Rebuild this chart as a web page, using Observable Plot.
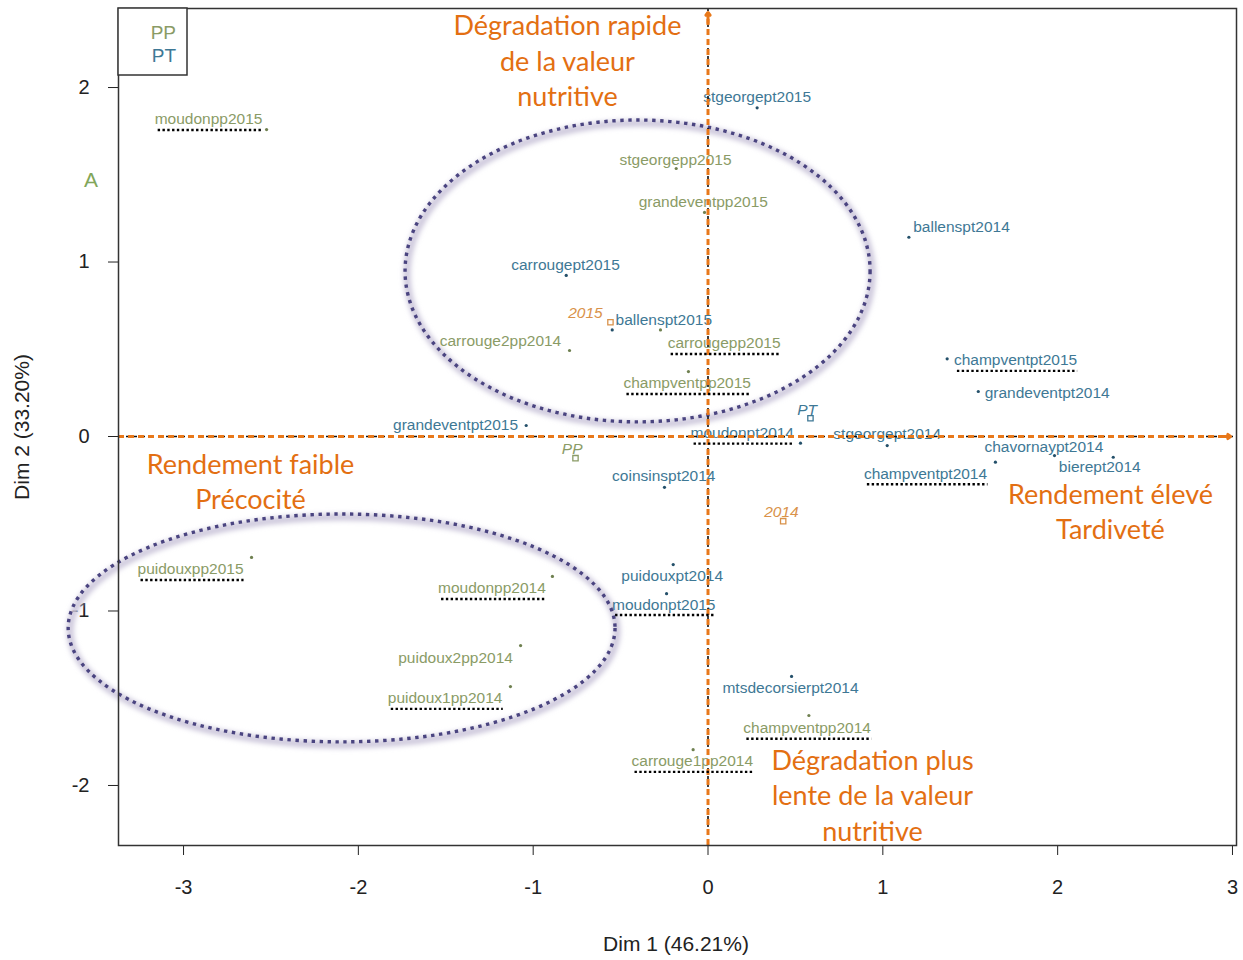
<!DOCTYPE html>
<html><head><meta charset="utf-8">
<script src="https://cdn.jsdelivr.net/npm/d3@7"></script>
<script src="https://cdn.jsdelivr.net/npm/@observablehq/plot@0.6"></script>
<style>body{margin:0;background:#fff} svg{display:block}</style>
</head><body><div id="chart"></div>
<script>
// ---- data ----
const ppNames = ["moudonpp2015","stgeorgepp2015","grandeventpp2015","carrougepp2015","champventpp2015","carrouge2pp2014","puidouxpp2015","moudonpp2014","puidoux2pp2014","puidoux1pp2014","champventpp2014","carrouge1pp2014"];
const ppDim1 = [-2.525,-0.182,-0.020,-0.272,-0.112,-0.792,-2.611,-0.890,-1.072,-1.130,0.577,-0.085];
const ppDim2 = [1.759,1.536,1.284,0.611,0.372,0.493,-0.693,-0.802,-1.198,-1.433,-1.599,-1.795];
const ppLabelDim1 = [-2.857,-0.186,-0.027,0.092,-0.119,-1.187,-2.960,-1.236,-1.444,-1.504,0.567,-0.090];
const ppLabelDim2 = [1.817,1.587,1.341,0.533,0.304,0.550,-0.762,-0.871,-1.267,-1.501,-1.672,-1.862];

const ptNames = ["stgeorgept2015","carrougept2015","ballenspt2014","ballenspt2015","grandeventpt2015","moudonpt2014","stgeorgept2014","coinsinspt2014","champventpt2015","grandeventpt2014","chavornaypt2014","bierept2014","champventpt2014","puidouxpt2014","moudonpt2015","mtsdecorsierpt2014"];
const ptDim1 = [0.281,-0.811,1.149,-0.548,-1.040,0.529,1.025,-0.249,1.368,1.546,1.982,2.318,1.644,-0.199,-0.237,0.478];
const ptDim2 = [1.884,0.923,1.142,0.611,0.063,-0.038,-0.052,-0.291,0.445,0.258,-0.109,-0.119,-0.147,-0.734,-0.901,-1.375];
const ptLabelDim1 = [0.281,-0.815,1.450,-0.253,-1.444,0.196,1.025,-0.253,1.759,1.940,1.921,2.241,1.244,-0.205,-0.253,0.472];
const ptLabelDim2 = [1.944,0.980,1.203,0.670,0.063,0.019,0.015,-0.229,0.436,0.250,-0.061,-0.176,-0.214,-0.802,-0.963,-1.442];

const suppNames = ["2015","2014","PP","PT"];
const suppGroup = ["year","year","PP","PT"];
const suppDim1 = [-0.558,0.430,-0.758,0.586];
const suppDim2 = [0.655,-0.485,-0.124,0.105];
const suppLabelDim1 = [-0.701,0.420,-0.777,0.567];
const suppLabelDim2 = [0.707,-0.434,-0.074,0.149];

const underlinedNames = ["moudonpp2015","carrougepp2015","champventpp2015","puidouxpp2015","moudonpp2014","puidoux1pp2014","champventpp2014","carrouge1pp2014","moudonpt2014","champventpt2015","champventpt2014","moudonpt2015"];

const ellipseCenterDim1 = [-0.400,-2.093];
const ellipseCenterDim2 = [0.946,-1.100];
const ellipseRadiusDim1 = [1.330,1.564];
const ellipseRadiusDim2 = [0.865,0.653];

const annotationTexts = ["Dégradation rapide\nde la valeur\nnutritive","Rendement faible\nPrécocité","Rendement élevé\nTardiveté","Dégradation plus\nlente de la valeur\nnutritive"];
const annotationDim1 = [-0.804,-2.617,2.302,0.941];
const annotationDim2 = [2.160,-0.250,-0.422,-2.047];

const arrowTipDim1 = 2.989;
const arrowTipDim2 = 2.43;

const xTicks = [-3,-2,-1,0,1,2,3];
const yTicks = [-2,-1,0,1,2];
const xDomain = [-3.372, 3.023];
const yDomain = [-2.344, 2.453];
const xLabel = "Dim 1 (46.21%)";
const yLabel = "Dim 2 (33.20%)";
const legendItems = ["PP","PT"];

// ---- styles ----
const colPP = "#8a9b66", colPT = "#3e7895";
const dotPP = "#6f8050", dotPT = "#24506a";
const orange = "#e36f12", orangeLine = "#e8781a", orangeSupp = "#d9924a";
const groupColor = {PP: colPP, PT: colPT, year: orangeSupp};
const sans = "'Liberation Sans', Arial, sans-serif";

// ---- tables ----
const rows = [
  ...ppNames.map((n,i)=>({name:n, group:"PP", d1:ppDim1[i], d2:ppDim2[i], l1:ppLabelDim1[i], l2:ppLabelDim2[i]})),
  ...ptNames.map((n,i)=>({name:n, group:"PT", d1:ptDim1[i], d2:ptDim2[i], l1:ptLabelDim1[i], l2:ptLabelDim2[i]}))
];
const supp = suppNames.map((n,i)=>({name:n, group:suppGroup[i], d1:suppDim1[i], d2:suppDim2[i], l1:suppLabelDim1[i], l2:suppLabelDim2[i]}));
const annotations = annotationTexts.map((t,i)=>({t, d1:annotationDim1[i], d2:annotationDim2[i]}));
const ellipses = ellipseCenterDim1.map((c,i)=>({cx:c, cy:ellipseCenterDim2[i], rx:ellipseRadiusDim1[i], ry:ellipseRadiusDim2[i]}));

const labelFont = 15.5;

function ellipseMark(index, scales) {
  const g = d3.create("svg:g");
  const defs = g.append("defs");
  defs.append("filter").attr("id","ellBlur").attr("x","-20%").attr("y","-20%").attr("width","140%").attr("height","140%")
    .append("feGaussianBlur").attr("stdDeviation", 2.5);
  for (const e of ellipses) {
    const cx = scales.x(e.cx), cy = scales.y(e.cy);
    const rx = Math.abs(scales.x(e.cx + e.rx) - cx), ry = Math.abs(scales.y(e.cy + e.ry) - cy);
    g.append("ellipse").attr("cx", cx + 2).attr("cy", cy + 3).attr("rx", rx).attr("ry", ry)
      .attr("fill","none").attr("stroke","#cdc8dc").attr("stroke-width",7).attr("filter","url(#ellBlur)");
    g.append("ellipse").attr("cx", cx).attr("cy", cy).attr("rx", rx).attr("ry", ry)
      .attr("fill","none").attr("stroke","#4a4480").attr("stroke-width",3.4).attr("stroke-dasharray","3.4,4.6");
  }
  return g.node();
}

const plot = Plot.plot({
  width: 1243, height: 960,
  marginLeft: 118, marginRight: 7, marginTop: 8, marginBottom: 115,
  style: {fontFamily: sans, fontSize: "20px", background: "#fff", color: "#222"},
  x: {domain: xDomain, ticks: xTicks, tickSize: 10, tickPadding: 24, tickFormat: d => String(d), label: null},
  y: {domain: yDomain, ticks: yTicks, tickSize: 10, tickPadding: 19, tickFormat: d => String(d), label: null},
  marks: [
    ellipseMark,
    Plot.dot(rows, {x:"d1", y:"d2", r:1.6, fill: d => d.group === "PP" ? dotPP : dotPT, stroke: "none"}),
    Plot.text(rows, {x:"l1", y:"l2", text:"name", fill: d => groupColor[d.group], fontSize: labelFont, fontFamily: sans, textAnchor:"middle", lineAnchor:"middle"}),
    Plot.dot(supp, {x:"d1", y:"d2", symbol:"square", r:3, stroke: d => groupColor[d.group], fill:"none", strokeWidth:1.3}),
    Plot.text(supp, {x:"l1", y:"l2", text:"name", fill: d => groupColor[d.group], fontSize: labelFont, fontFamily: sans, fontStyle:"italic", textAnchor:"middle", lineAnchor:"middle"}),
    Plot.ruleY([0], {stroke:"#111", strokeWidth:1.6, strokeDasharray:"3,5"}),
    Plot.ruleX([0], {stroke:"#111", strokeWidth:1.6, strokeDasharray:"3,5"}),
    Plot.ruleY([0], {x1: xDomain[0], x2: arrowTipDim1, stroke: orangeLine, strokeWidth: 3, strokeDasharray: "6,4"}),
    Plot.ruleX([0], {y1: yDomain[0], y2: arrowTipDim2, stroke: orangeLine, strokeWidth: 3, strokeDasharray: "6,4"}),
    Plot.arrow([{a:arrowTipDim1 - 0.06, b:arrowTipDim1}], {x1:"a", x2:"b", y1: 0, y2: 0, stroke: orangeLine, strokeWidth: 3, headLength: 20, headAngle: 75}),
    Plot.arrow([{a:arrowTipDim2 - 0.06, b:arrowTipDim2}], {x1: 0, x2: 0, y1:"a", y2:"b", stroke: orangeLine, strokeWidth: 3, headLength: 20, headAngle: 75}),
    Plot.text(annotations, {x:"d1", y:"d2", text:"t", fill: orange, fontSize: 27, lineHeight: 1.315, textAnchor:"middle", lineAnchor:"middle", fontFamily:"Lato, 'Open Sans', sans-serif"}),
    Plot.frame({stroke:"#333", strokeWidth:1.5})
  ]
});
document.getElementById("chart").appendChild(plot);

const svg = d3.select(plot);
// dotted underlines under selected labels (screen boxes relative to the svg)
const svgRect = plot.getBoundingClientRect();
const ulBoxes = [];
svg.selectAll("text").each(function() {
  if (this.childElementCount === 0 && underlinedNames.includes(this.textContent)) {
    const r = this.getBoundingClientRect();
    ulBoxes.push({x: r.left - svgRect.left, y: r.top - svgRect.top, w: r.width, h: r.height});
  }
});
const ulGroup = svg.append("g");
for (const b of ulBoxes) {
  ulGroup.append("line").attr("x1", b.x + 3).attr("x2", b.x + b.w).attr("y1", b.y + b.h + 2.5).attr("y2", b.y + b.h + 2.5)
    .attr("stroke", "#000").attr("stroke-width", 2.4).attr("stroke-dasharray", "2.4,2.4");
}
// axis titles
svg.append("text").attr("x", 676).attr("y", 944).attr("dy","0.35em").attr("text-anchor","middle")
  .attr("font-size", 21).attr("font-family", sans).attr("fill","#222").text(xLabel);
svg.append("text").attr("transform","translate(22,427) rotate(-90)").attr("dy","0.35em").attr("text-anchor","middle")
  .attr("font-size", 21).attr("font-family", sans).attr("fill","#222").text(yLabel);
// legend box
svg.append("rect").attr("x",118).attr("y",8).attr("width",69).attr("height",67).attr("fill","#fff").attr("stroke","#333").attr("stroke-width",1.5);
legendItems.forEach((t,i) => svg.append("text").attr("x",176).attr("y",32 + i*23).attr("dy","0.35em").attr("text-anchor","end")
  .attr("font-size",19).attr("font-family", sans).attr("fill", t === "PP" ? colPP : colPT).text(t));
svg.append("text").attr("x",91).attr("y",180).attr("dy","0.35em").attr("text-anchor","middle").attr("font-size",21).attr("font-family", sans).attr("fill","#82a65a").text("A");
</script></body></html>
